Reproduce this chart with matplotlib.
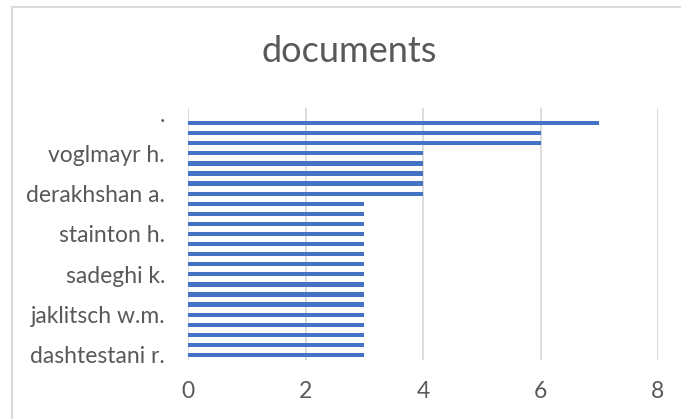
import matplotlib
matplotlib.use("Agg")
import matplotlib.pyplot as plt
from matplotlib.lines import Line2D

# authors, listed bottom to top; only every fourth name is labelled
authors = ["dashtestani r.", "", "", "", "jaklitsch w.m.", "", "", "",
           "sadeghi k.", "", "", "", "stainton h.", "", "", "",
           "derakhshan a.", "", "", "", "voglmayr h.", "", "", "", "."]
documents = [3, 3, 3, 3, 3, 3, 3, 3, 3, 3, 3, 3, 3, 3, 3, 3,
             4, 4, 4, 4, 4, 6, 6, 7, 0]
xticks = [0, 2, 4, 6, 8]

text_col = "#595959"
plt.rcParams["font.family"] = ["Lato", "DejaVu Sans"]

fig = plt.figure(figsize=(6.81, 4.19), dpi=100)
ax = fig.add_axes([188 / 681, 1 - 360 / 419, 470 / 681, 252 / 419])

pos = list(range(len(authors)))
ax.barh(pos, documents, height=0.42, color="#4472C4", zorder=3)

ax.set_xlim(0, 8)
ax.set_ylim(-0.5, len(authors) - 0.5)
ax.set_xticks(xticks)
ax.set_yticks(pos[::4])
ax.set_yticklabels(authors[::4])
ax.grid(axis="x", color="#D9D9D9", linewidth=1.3, zorder=0)
for s in ax.spines.values():
    s.set_visible(False)
ax.tick_params(axis="both", length=0, colors=text_col, labelsize=16.5)
ax.tick_params(axis="y", pad=16.5)
ax.tick_params(axis="x", pad=15)

fig.text(349 / 681, 1 - 52 / 419, "documents", ha="center", va="center",
         fontsize=26, color=text_col)

# chart area border (left and top edges fall inside the image)
fig.add_artist(Line2D([12 / 681, 12 / 681], [0, 1 - 7 / 419],
                      transform=fig.transFigure, color="#D9D9D9", linewidth=1.5))
fig.add_artist(Line2D([12 / 681, 1], [1 - 7 / 419, 1 - 7 / 419],
                      transform=fig.transFigure, color="#D9D9D9", linewidth=1.5))

fig.savefig("out.png", dpi=100)
